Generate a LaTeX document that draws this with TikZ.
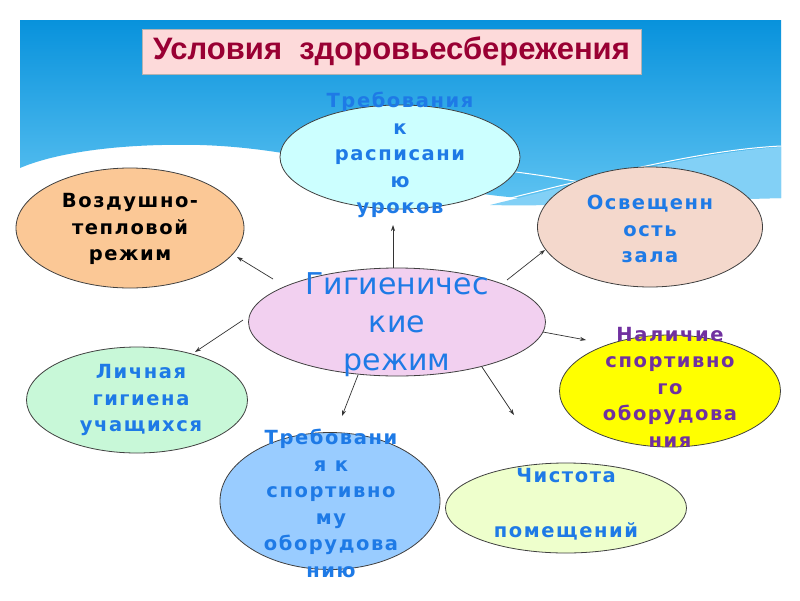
\documentclass[tikz,border=0pt]{standalone}
\usepackage{fontspec}
\setmainfont{Liberation Sans}
\newfontfamily\ebold[LetterSpace=8]{DejaVu Sans}
\newfontfamily\ereg{DejaVu Sans}
\usetikzlibrary{shapes.geometric,arrows.meta}
\definecolor{skytop}{RGB}{8,146,220}
\definecolor{skybot}{RGB}{96,196,242}
\definecolor{skylight}{RGB}{130,208,246}
\definecolor{titlefill}{RGB}{253,218,218}
\definecolor{titletext}{RGB}{153,0,51}
\definecolor{tblue}{RGB}{30,122,230}
\definecolor{tpurple}{RGB}{112,48,160}
\definecolor{fcyan}{RGB}{204,255,255}
\definecolor{forange}{RGB}{251,200,150}
\definecolor{fbeige}{RGB}{244,216,204}
\definecolor{fviolet}{RGB}{242,208,240}
\definecolor{fgreen}{RGB}{200,248,216}
\definecolor{fyellow}{RGB}{255,255,0}
\definecolor{fblue}{RGB}{153,204,255}
\definecolor{flime}{RGB}{238,255,204}
\tikzset{
  oval/.style={ellipse, draw=black!75, line width=0.8pt, inner sep=0pt},
  btext/.style={align=center, font=\ebold\bfseries\fontsize{19.5}{26.5}\selectfont, text=tblue, inner sep=0pt},
  conn/.style={draw=black!80, line width=0.7pt, -{Stealth[length=6pt,width=4pt]}},
}
\begin{document}
\begin{tikzpicture}[x=1pt,y=-1pt]
\useasboundingbox (0,0) rectangle (800,600);
\fill[white] (0,0) rectangle (800,600);
% sky
\shade[top color=skytop, bottom color=skybot]
  (20,20) -- (781,20) -- (781,198)
  .. controls (680,200) and (560,207) .. (470,192)
  .. controls (380,176) and (300,148) .. (200,145)
  .. controls (110,143) and (50,155) .. (20,168) -- cycle;
\fill[skylight]
  (490,205) .. controls (600,178) and (700,152) .. (781,147) -- (781,198)
  .. controls (680,200) and (560,207) .. (490,205) -- cycle;
\draw[white, line width=1pt] (490,203) .. controls (600,176) and (700,150) .. (781,146);
\draw[white, line width=1pt] (240,154) .. controls (380,158) and (500,165) .. (600,186);
% title
\node[draw=black!30, fill=titlefill, minimum width=499, minimum height=45, inner sep=0pt,
      font=\bfseries\fontsize{31}{33}\selectfont, text=titletext] (title) at (391.5,51.5)
      {Условия\ \ здоровьесбережения};
% ellipses
\node[oval, fill=fcyan, minimum width=240, minimum height=104] (top) at (400,157) {};
\node[oval, fill=forange, minimum width=228, minimum height=120] (air) at (130,228) {};
\node[oval, fill=fbeige, minimum width=225, minimum height=120] (light) at (650,227) {};
\node[oval, fill=fviolet, minimum width=297, minimum height=108] (c) at (397,322) {};
\node[oval, fill=fgreen, minimum width=221, minimum height=106] (pers) at (137,400) {};
\node[oval, fill=fyellow, minimum width=221, minimum height=112] (equip) at (670,391) {};
\node[oval, fill=fblue, minimum width=220, minimum height=137] (req) at (330,501) {};
\node[oval, fill=flime, minimum width=241, minimum height=90] (clean) at (566,508) {};
% texts
\node[btext] (ttop) at (400,155) {Требования\\к\\расписани\\ю\\уроков};
\node[btext, text=black] (tair) at (130,229) {Воздушно-\\тепловой\\режим};
\node[btext] (tlight) at (650,229) {Освещенн\\ость\\зала};
\node[align=center, font=\ereg\fontsize{30}{38}\selectfont, text=tblue, inner sep=0pt] (tc) at (397,325) {Гигиеничес\\кие\\режим};
\node[btext] (tpers) at (141,400) {Личная\\гигиена\\учащихся};
\node[btext, text=tpurple] (tequip) at (670,387) {Наличие\\спортивно\\го\\оборудова\\ния};
\node[btext] (treq) at (331,503.5) {Требовани\\я к\\спортивно\\му\\оборудова\\нию};
\node[btext] (tclean) at (566,504) {Чистота\\[2pt]\\помещений};
% connector endpoints
\coordinate (a1) at (393,268); \coordinate (b1) at (393,225);
\coordinate (a2) at (273,279); \coordinate (b2) at (237,257);
\coordinate (a3) at (507,280); \coordinate (b3) at (545,250);
\coordinate (a4) at (543,332); \coordinate (b4) at (586,340);
\coordinate (a5) at (243,320); \coordinate (b5) at (195,352);
\coordinate (a6) at (358,375); \coordinate (b6) at (342,416);
\coordinate (a7) at (482,367); \coordinate (b7) at (514,415);
\draw[conn] (a1) -- (b1);
\draw[conn] (a2) -- (b2);
\draw[conn] (a3) -- (b3);
\draw[conn] (a4) -- (b4);
\draw[conn] (a5) -- (b5);
\draw[conn] (a6) -- (b6);
\draw[conn] (a7) -- (b7);
\end{tikzpicture}
\end{document}
